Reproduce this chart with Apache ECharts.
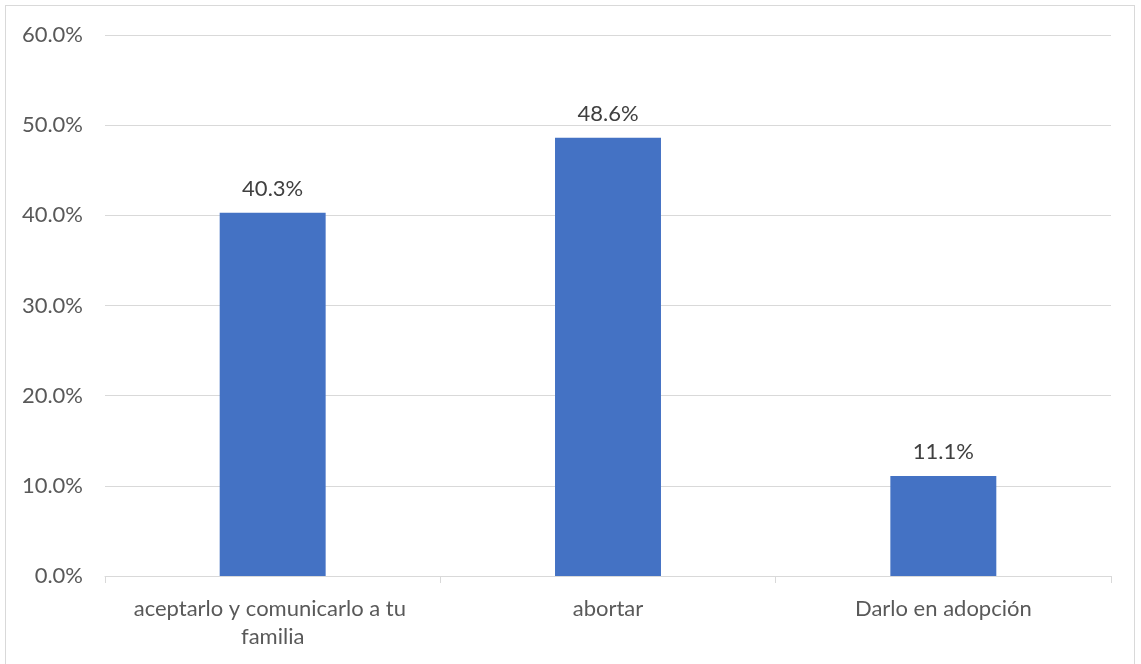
<!DOCTYPE html>
<html>
<head>
<meta charset="utf-8">
<script src="https://cdn.jsdelivr.net/npm/echarts@6/dist/echarts.min.js"></script>
<style>
html,body{margin:0;padding:0;background:#fff;}
#frame{position:absolute;left:5px;top:5px;width:1130px;height:670px;border:1px solid #d9d9d9;box-sizing:border-box;}
#chart{position:absolute;left:0;top:0;width:1141px;height:664px;}
</style>
</head>
<body>
<div id="frame"></div>
<div id="chart"></div>
<script>
const categories = ["aceptarlo y comunicarlo a tu familia", "abortar", "Darlo en adopción"];
const values = [40.3, 48.6, 11.1];
const yTicks = [0, 10, 20, 30, 40, 50, 60];

const FONT = 'Lato';
const chart = echarts.init(document.getElementById('chart'));
chart.setOption({
  animation: false,
  grid: {left: 105, right: 30, top: 35, bottom: 88},
  xAxis: {
    type: 'category',
    data: categories,
    axisLine: {lineStyle: {color: '#d9d9d9', width: 1}},
    axisTick: {show: true, length: 7, interval: 0, lineStyle: {color: '#d9d9d9'}},
    axisLabel: {interval: 0, color: '#595959', fontSize: 22, fontFamily: FONT, margin: 19, width: 310, overflow: 'break', lineHeight: 28}
  },
  yAxis: {
    type: 'value',
    min: yTicks[0],
    max: yTicks[yTicks.length - 1],
    interval: 10,
    axisLine: {show: false},
    axisTick: {show: false},
    splitLine: {lineStyle: {color: '#d9d9d9', width: 1}},
    axisLabel: {color: '#595959', fontSize: 22, fontFamily: FONT, margin: 22, formatter: v => v.toFixed(1) + '%'}
  },
  series: [{
    type: 'bar',
    data: values,
    barWidth: '31.6%',
    itemStyle: {color: '#4472c4'},
    label: {show: true, position: 'top', distance: 13, color: '#404040', fontSize: 22, fontFamily: FONT, formatter: p => p.value.toFixed(1) + '%'}
  }]
});
</script>
</body>
</html>
